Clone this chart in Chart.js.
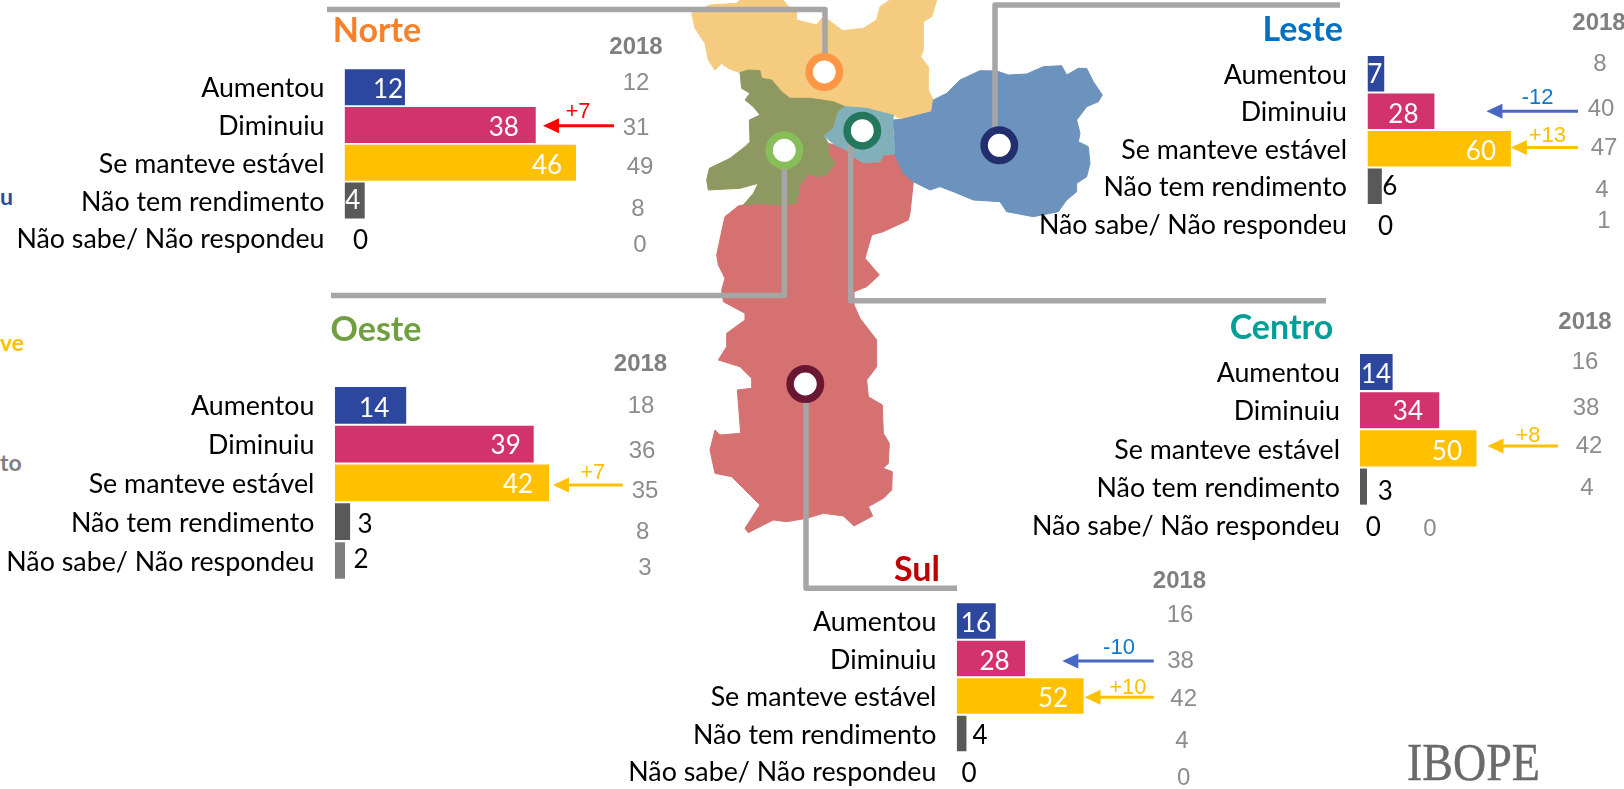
<!DOCTYPE html>
<html lang="pt">
<head>
<meta charset="utf-8">
<title>Rendimento por região</title>
<script src="https://cdn.jsdelivr.net/npm/chart.js@4"></script>
<style>
html,body{margin:0;padding:0;background:#fff;width:1624px;height:789px;overflow:hidden}
#stage{position:relative;width:1624px;height:789px;overflow:hidden}
#stage canvas,#stage svg{position:absolute;left:0;top:0}
.frag{position:absolute;font:bold 23px Lato,sans-serif;left:0}
</style>
</head>
<body>
<div id="stage">
<svg width="1624" height="789" viewBox="0 0 1624 789">
  <g transform="translate(650,0) scale(0.33333)" stroke-width="3" stroke-linejoin="round">
    <polygon fill="#F5CB7F" stroke="#F5CB7F" points="180,15 260,10 270,0 400,0 415,20 440,25 440,60 500,75 515,55 535,60 578,92 640,85 680,60 690,20 720,0 860,0 845,50 820,65 820,150 812,170 835,200 835,270 850,300 845,335 755,358 730,345 700,338 650,325 590,320 550,305 480,295 420,295 395,275 365,240 335,235 330,212 295,210 270,218 235,205 215,190 195,210 175,180 165,130 135,85 125,40"/>
    <polygon fill="#D57171" stroke="#D57171" points="280,615 330,610 390,615 440,610 450,555 475,522 500,530 530,525 555,490 535,460 535,430 555,435 590,450 610,470 640,488 690,485 700,465 733,462 760,520 790,545 780,640 775,660 700,695 665,705 645,775 688,825 650,860 612,875 612,915 630,955 680,1020 680,1100 650,1140 655,1190 697,1215 700,1300 718,1330 715,1390 700,1405 727,1415 725,1470 700,1495 655,1520 668,1548 612,1578 580,1548 520,1540 470,1555 410,1565 370,1560 340,1575 295,1598 285,1585 330,1515 280,1465 245,1430 195,1420 180,1350 195,1290 210,1305 272,1300 262,1170 305,1165 305,1135 270,1100 205,1080 230,1040 230,1000 285,960 285,940 220,905 215,870 225,835 205,795 200,765 218,680 225,650 265,618"/>
    <polygon fill="#8E9962" stroke="#8E9962" points="270,218 295,210 330,212 335,235 365,240 395,275 420,295 480,295 550,305 585,320 565,335 550,385 522,408 535,430 535,460 555,490 530,525 500,530 475,522 450,555 440,610 390,615 330,610 280,615 310,580 325,550 270,565 175,570 170,540 178,505 240,475 285,440 300,425 298,360 330,345 310,320 285,300 300,280 275,265"/>
    <polygon fill="#6C93BE" stroke="#6C93BE" points="728,360 755,358 845,335 850,300 890,280 930,240 990,212 1040,213 1075,225 1130,222 1180,200 1235,197 1250,225 1285,205 1310,205 1330,245 1357,285 1345,305 1310,320 1280,360 1290,400 1285,425 1315,440 1320,490 1310,530 1280,550 1280,575 1250,600 1225,635 1150,650 1070,635 1050,605 970,600 910,575 870,560 840,570 790,545 760,520 735,465 733,400"/>
    <polygon fill="#82B0BA" stroke="#82B0BA" points="585,320 650,325 700,338 730,345 728,370 730,400 733,462 700,465 690,485 640,488 610,470 590,450 555,435 522,408 550,385 565,335"/>
  </g>
  <g fill="none" stroke="#A6A6A6" stroke-width="5.5" stroke-linejoin="round">
    <polyline points="327,9.5 825,9.5 825,55"/>
    <polyline points="1340,5 995,5 995,130"/>
    <polyline points="331,295.5 784.3,295.5 784.3,165"/>
    <polyline points="1326,300.7 850.7,300.7 850.7,140"/>
    <polyline points="957,588.3 806,588.3 806,400"/>
  </g>
  <g fill="#fff" stroke-width="7.5">
    <circle cx="824.3" cy="72" r="15.2" stroke="#FF9646"/>
    <circle cx="784.3" cy="150.3" r="15.2" stroke="#88BE58"/>
    <circle cx="862.3" cy="130.7" r="15.2" stroke="#22775D"/>
    <circle cx="999.3" cy="145.3" r="15.2" stroke="#222E6E"/>
    <circle cx="805.3" cy="384" r="15.2" stroke="#6B1632"/>
  </g>
</svg>
<div class="frag" style="color:#2F479E;top:182px">u</div>
<div class="frag" style="color:#FFC000;top:328px">ve</div>
<div class="frag" style="color:#7F7F7F;top:448px">to</div>
<canvas id="norteC" width="1624" height="830"></canvas>
<canvas id="lesteC" width="1624" height="830"></canvas>
<canvas id="oesteC" width="1624" height="830"></canvas>
<canvas id="centroC" width="1624" height="830"></canvas>
<canvas id="sulC" width="1624" height="830"></canvas>
<div style="position:absolute;left:1407px;top:736px;font:46px 'Liberation Serif',serif;color:#6A6A6A;-webkit-text-stroke:.4px #6A6A6A;transform:scaleY(1.16);transform-origin:0 0;line-height:46px">IBOPE</div>
</div>
<script>
const categories = ['Aumentou','Diminuiu','Se manteve estável','Não tem rendimento','Não sabe/ Não respondeu'];
const norte  = [12,38,46,4,0];
const oeste  = [14,39,42,3,2];
const leste  = [7,28,60,6,0];
const centro = [14,34,50,3,0];
const sul    = [16,28,52,4,0];
const norte2018  = [12,31,49,8,0];
const oeste2018  = [18,36,35,8,3];
const leste2018  = [8,40,47,4,1];
const centro2018 = [16,38,42,4,0];
const sul2018    = [16,38,42,4,0];
const norteDelta  = ['+7'];
const oesteDelta  = ['+7'];
const lesteDelta  = ['-12','+13'];
const centroDelta = ['+8'];
const sulDelta    = ['-10','+10'];
const barColors = ['#2E479E','#D2336C','#FFC000','#595959','#7F7F7F'];

const BLUE='#4A66C4', BLUET='#0F78CE', AMB='#FFC000', RED='#FF0000';
const INK='#000000', WHITE='#FFFFFF';
const H=830, TXT=1.5;

function region(id, name, values, prior, deltas, L){
  const annotate = {
    id:'annotate',
    afterDatasetsDraw(chart){
      const {ctx,scales:{x,y}} = chart;
      ctx.save();
      ctx.textAlign='center'; ctx.textBaseline='middle';
      ctx.font = "26px Lato, sans-serif";
      values.forEach((v,i)=>{
        ctx.fillStyle = L.inside[i] ? WHITE : INK;
        ctx.fillText(String(v), x.getPixelForValue(v)+L.labelDx[i], y.getPixelForValue(i)+L.labelDy[i]+TXT);
      });
      ctx.fillStyle='#7F7F7F';
      ctx.font="bold 24px 'Liberation Sans', sans-serif";
      ctx.fillText('2018', L.yearX, L.yearY+TXT);
      ctx.fillStyle='#8C8C8C';
      ctx.font="24px 'Liberation Sans', sans-serif";
      prior.forEach((v,i)=>{
        ctx.fillText(String(v), L.colX+L.colDx[i], y.getPixelForValue(i)+L.colDy[i]+TXT);
      });
      ctx.fillStyle=L.titleColor;
      ctx.font="bold 34px Lato, sans-serif";
      ctx.fillText(name, L.titleX, L.titleY+TXT);
      L.arrows.forEach((a,k)=>{
        const tip = x.getPixelForValue(values[a.row])+a.gap;
        const yy = y.getPixelForValue(a.row)+a.dy;
        ctx.strokeStyle=a.color; ctx.fillStyle=a.color; ctx.lineWidth=3;
        ctx.beginPath(); ctx.moveTo(a.tail,yy); ctx.lineTo(tip+14,yy); ctx.stroke();
        ctx.beginPath(); ctx.moveTo(tip,yy); ctx.lineTo(tip+16,yy-7.5); ctx.lineTo(tip+16,yy+7.5); ctx.closePath(); ctx.fill();
        ctx.fillStyle=a.text||a.color;
        ctx.font="22px 'Liberation Sans', sans-serif";
        ctx.fillText(deltas[k], a.labelX, y.getPixelForValue(a.row)+a.labelDy+TXT);
      });
      ctx.restore();
    }
  };
  return new Chart(document.getElementById(id),{
    type:'bar',
    data:{labels:categories,datasets:[{data:values,backgroundColor:barColors,categoryPercentage:1,barPercentage:L.barFrac,borderWidth:0}]},
    options:{
      indexAxis:'y',responsive:false,animation:false,devicePixelRatio:1,
      layout:{padding:{left:0,right:0,top:L.c0-L.pitch/2,bottom:H-(L.c0+4.5*L.pitch)}},
      plugins:{legend:{display:false},tooltip:{enabled:false}},
      scales:{
        x:{display:false,min:0,max:(1624-L.x0)/L.ppu},
        y:{
          afterFit(s){s.width=L.x0;},
          grid:{display:false,drawTicks:false},
          border:{display:false},
          ticks:{color:'#000',padding:L.x0-L.catRight,labelOffset:1.5,font:{family:'Lato',size:26.8},autoSkip:false}
        }
      }
    },
    plugins:[annotate]
  });
}

region('norteC','Norte',norte,norte2018,norteDelta,{
  x0:344.6,ppu:5.03,c0:87.3,pitch:37.7,barFrac:.955,catRight:324.5,
  labelDx:[-17,-32,-29,-12,16],labelDy:[1,1,1,-1,1],inside:[1,1,1,1,0],
  yearX:636,yearY:45.7,colX:636,colDx:[0,0,4,2,4],colDy:[-5.6,1.7,3,7.2,5.7],
  titleColor:'#F5822A',titleX:377,titleY:30,
  arrows:[{row:1,color:RED,gap:7.3,tail:614,dy:.7,labelX:578,labelDy:-14.3}]
});
region('oesteC','Oeste',oeste,oeste2018,oesteDelta,{
  x0:334.8,ppu:5.1,c0:405.3,pitch:38.8,barFrac:.945,catRight:314.4,
  labelDx:[-32,-28,-31,15,16],labelDy:[1.4,0,.5,1,-2.5],inside:[1,1,1,0,0],
  yearX:640.5,yearY:363.3,colX:641,colDx:[0,1,4,1.7,4],colDy:[-.3,6,6.5,9,6.2],
  titleColor:'#6F9F3F',titleX:376,titleY:329,
  arrows:[{row:2,color:AMB,gap:4,tail:622.7,dy:2.2,labelX:592.8,labelDy:-11.1}]
});
region('lesteC','Leste',leste,leste2018,lesteDelta,{
  x0:1367.5,ppu:2.39,c0:73.8,pitch:37.5,barFrac:.95,catRight:1347,
  labelDx:[-9.5,-31,-30,8,18],labelDy:[-.5,1.4,1,-1.3,1],inside:[1,1,1,0,0],
  yearX:1599,yearY:22,colX:1600,colDx:[0,1,4,2,4],colDy:[-10.5,-3,-2.3,3,-4],
  titleColor:'#0070C0',titleX:1302.7,titleY:28.3,
  arrows:[{row:1,color:BLUE,text:BLUET,gap:52,tail:1578,dy:0,labelX:1537.6,labelDy:-15},
          {row:2,color:AMB,gap:0,tail:1578,dy:-1.3,labelX:1547.4,labelDy:-14}]
});
region('centroC','Centro',centro,centro2018,centroDelta,{
  x0:1360,ppu:2.33,c0:372,pitch:38.2,barFrac:.945,catRight:1340,
  labelDx:[-16.6,-31.3,-29.6,18.2,13.3],labelDy:[.7,.4,1.7,3.3,1],inside:[1,1,1,0,0],
  yearX:1585,yearY:320.7,colX:1585,colDx:[0,1,4,2,-155.2],colDy:[-11.3,-3.6,-4,.6,3.3],
  titleColor:'#009E98',titleX:1281.5,titleY:326.7,
  arrows:[{row:2,color:AMB,gap:11,tail:1558,dy:-2.3,labelX:1528,labelDy:-14.3}]
});
region('sulC','Sul',sul,sul2018,sulDelta,{
  x0:956.7,ppu:2.44,c0:621,pitch:37.5,barFrac:.95,catRight:936.4,
  labelDx:[-19.8,-30.4,-30.6,13.5,12.3],labelDy:[.7,1.7,1.5,.7,1],inside:[1,1,1,0,0],
  yearX:1179.5,yearY:580,colX:1180,colDx:[0,.6,3.7,2,3.7],colDy:[-7,1,1.9,6.7,5.9],
  titleColor:'#C00000',titleX:917,titleY:568.3,
  arrows:[{row:1,color:BLUE,text:BLUET,gap:37.3,tail:1153.8,dy:2.4,labelX:1119,labelDy:-11.6},
          {row:2,color:AMB,gap:1,tail:1153.8,dy:1.2,labelX:1127.8,labelDy:-9.8}]
});
</script>
</body>
</html>
